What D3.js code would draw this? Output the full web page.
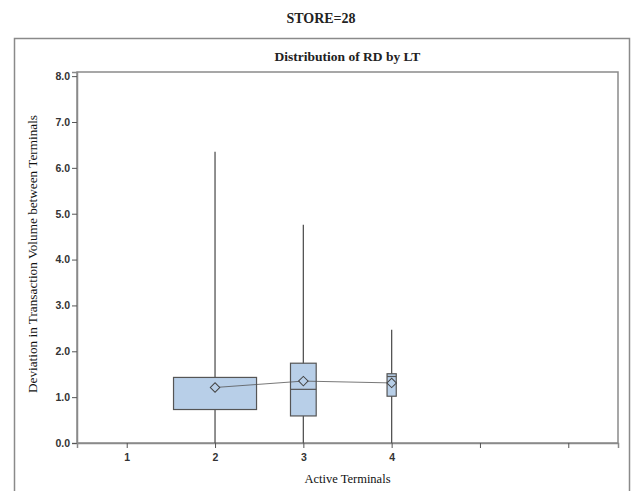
<!DOCTYPE html>
<html>
<head>
<meta charset="utf-8">
<script src="https://cdn.jsdelivr.net/npm/d3@7"></script>
<style>
  body { margin: 0; background: #fff; }
  svg { display: block; }
</style>
</head>
<body>
<svg width="639" height="491"></svg>
<script>
// x ticks (5 and 6 are left unlabeled, as in the original)
const xTicks = [1, 2, 3, 4, 5, 6];
const xTickLabels = ['1', '2', '3', '4', '', ''];
const yTicks = [0, 1, 2, 3, 4, 5, 6, 7, 8];

// box plot stats per LT group
const groups = [2, 3, 4];
const counts = [830, 257, 92];
const whiskerLow = [0, 0, 0];
const q1 = [0.73, 0.59, 1.02];
const median = [0.73, 1.17, 1.45];
const q3 = [1.43, 1.74, 1.51];
const whiskerHigh = [6.35, 4.76, 2.47];
const means = [1.21, 1.35, 1.31];

const svg = d3.select('svg');
const plotLeft = 77, plotRight = 618, plotTop = 72, plotBottom = 443;

const x = d3.scaleLinear().domain([0.437, 6.563]).range([plotLeft, plotRight]);
const y = d3.scaleLinear().domain([0, 8.09]).range([plotBottom, plotTop]);
const w = d3.scaleLinear().domain([0, d3.max(counts)]).range([0, 0.94 * (x(2) - x(1))]);

const serif = 'Liberation Serif, Times New Roman, serif';
const sans = 'Liberation Sans, Arial, sans-serif';

// outer panel border
svg.append('rect')
  .attr('x', 14.5).attr('y', 38.5)
  .attr('width', 615).attr('height', 470)
  .attr('fill', 'none').attr('stroke', '#8a8a8a').attr('stroke-width', 1.5);

svg.append('text')
  .attr('x', 321).attr('y', 23)
  .attr('text-anchor', 'middle')
  .style('font-family', serif).style('font-weight', 'bold').style('font-size', '14px')
  .attr('fill', '#222')
  .text('STORE=28');

svg.append('text')
  .attr('x', (plotLeft + plotRight) / 2).attr('y', 61)
  .attr('text-anchor', 'middle')
  .style('font-family', serif).style('font-weight', 'bold').style('font-size', '13.5px')
  .attr('fill', '#222')
  .text('Distribution of RD by LT');

// plot frame
svg.append('rect')
  .attr('x', plotLeft).attr('y', plotTop)
  .attr('width', plotRight - plotLeft).attr('height', plotBottom - plotTop)
  .attr('fill', 'none').attr('stroke', '#8a8a8a').attr('stroke-width', 1.5);

// axes
let yAxis = svg.append('g')
  .attr('transform', `translate(${plotLeft},0)`)
  .call(d3.axisLeft(y).tickValues(yTicks).tickFormat(d3.format('.1f')).tickSize(5).tickPadding(2));

let xAxis = svg.append('g')
  .attr('transform', `translate(0,${plotBottom})`)
  .call(d3.axisBottom(x).tickValues(xTicks).tickFormat((d, i) => xTickLabels[i]).tickSize(5).tickPadding(6));

[yAxis, xAxis].forEach(a => {
  a.select('.domain').attr('stroke', '#8a8a8a').attr('stroke-width', 1.5);
  a.selectAll('.tick line').attr('stroke', '#555');
  a.selectAll('.tick text')
    .style('font-family', sans).style('font-weight', 'bold').style('font-size', '10.5px')
    .attr('fill', '#333');
});

// axis labels
svg.append('text')
  .attr('x', (plotLeft + plotRight) / 2).attr('y', 483)
  .attr('text-anchor', 'middle')
  .style('font-family', serif).style('font-size', '12.5px')
  .attr('fill', '#111')
  .text('Active Terminals');

svg.append('text')
  .attr('transform', `translate(37,${(115 + 393) / 2}) rotate(-90)`)
  .attr('text-anchor', 'middle')
  .attr('textLength', 278).attr('lengthAdjust', 'spacingAndGlyphs')
  .style('font-family', serif).style('font-size', '12.5px')
  .attr('fill', '#111')
  .text('Deviation in Transaction Volume between Terminals');

const idx = d3.range(groups.length);

// whiskers
svg.append('g').selectAll('line').data(idx).join('line')
  .attr('x1', i => x(groups[i])).attr('x2', i => x(groups[i]))
  .attr('y1', i => y(whiskerLow[i])).attr('y2', i => y(whiskerHigh[i]))
  .attr('stroke', '#555').attr('stroke-width', 1.3);

// boxes
svg.append('g').selectAll('rect').data(idx).join('rect')
  .attr('x', i => x(groups[i]) - w(counts[i]) / 2)
  .attr('width', i => w(counts[i]))
  .attr('y', i => y(q3[i]))
  .attr('height', i => y(q1[i]) - y(q3[i]))
  .attr('fill', '#b8cfe8').attr('stroke', '#555').attr('stroke-width', 1.2);

// medians
svg.append('g').selectAll('line').data(idx).join('line')
  .attr('x1', i => x(groups[i]) - w(counts[i]) / 2)
  .attr('x2', i => x(groups[i]) + w(counts[i]) / 2)
  .attr('y1', i => y(median[i])).attr('y2', i => y(median[i]))
  .attr('stroke', '#555').attr('stroke-width', 1.2);

// line connecting the means
svg.append('path')
  .datum(idx)
  .attr('d', d3.line().x(i => x(groups[i])).y(i => y(means[i])))
  .attr('fill', 'none').attr('stroke', '#555').attr('stroke-width', 0.8);

// mean markers
svg.append('g').selectAll('path').data(idx).join('path')
  .attr('transform', i => `translate(${x(groups[i])},${y(means[i])}) rotate(45)`)
  .attr('d', d3.symbol().type(d3.symbolSquare).size(45))
  .attr('fill', '#b8cfe8').attr('stroke', '#444').attr('stroke-width', 1);
</script>
</body>
</html>
